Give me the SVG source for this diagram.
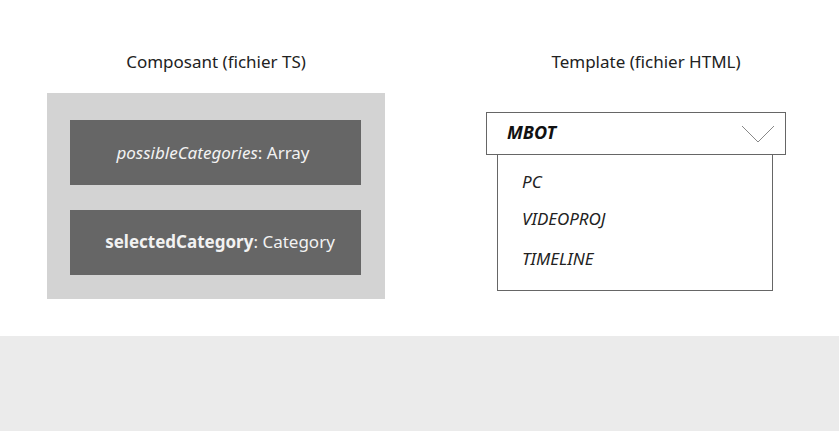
<svg xmlns="http://www.w3.org/2000/svg" width="839" height="431" viewBox="0 0 839 431">
<style>
text{font-family:"Noto Sans","Open Sans","Liberation Sans",sans-serif}
.title{font-size:17px;fill:#222}
.field{font-size:17px;fill:#f2f2f2}
.opt{font-size:17px;fill:#222;font-style:italic}
</style>
<rect x="0" y="0" width="839" height="431" fill="#ffffff"/>
<rect x="0" y="336" width="839" height="95" fill="#ebebeb"/>
<g id="composant">
<text class="title" x="216" y="68" text-anchor="middle">Composant (fichier TS)</text>
<rect x="47" y="93" width="338" height="206" fill="#d3d3d3"/>
</g>
<g id="possibleCategories">
<rect x="70" y="120" width="291" height="65" fill="#666666"/>
<text class="field" x="213" y="159" text-anchor="middle"><tspan font-style="italic">possibleCategories</tspan>: Array</text>
</g>
<g id="selectedCategory">
<rect x="70" y="210" width="291" height="65" fill="#666666"/>
<text class="field" x="220" y="248" text-anchor="middle"><tspan font-weight="bold">selectedCategory</tspan>: Category</text>
</g>
<g id="template">
<text class="title" x="646" y="68" text-anchor="middle">Template (fichier HTML)</text>
</g>
<g id="select">
<rect x="497.5" y="154.5" width="275" height="136" fill="#ffffff" stroke="#666" stroke-width="1"/>
<rect x="486.5" y="112.5" width="299" height="42" fill="#ffffff" stroke="#666" stroke-width="1"/>
<text x="507" y="139" font-size="18" font-weight="bold" font-style="italic" fill="#111">MBOT</text>
<polyline points="742,126 758,142 774,126" fill="none" stroke="#888" stroke-width="1"/>
<text class="opt" x="522" y="188">PC</text>
<text class="opt" x="522" y="225">VIDEOPROJ</text>
<text class="opt" x="522" y="265">TIMELINE</text>
</g>
<g id="connectors"></g>
</svg>
